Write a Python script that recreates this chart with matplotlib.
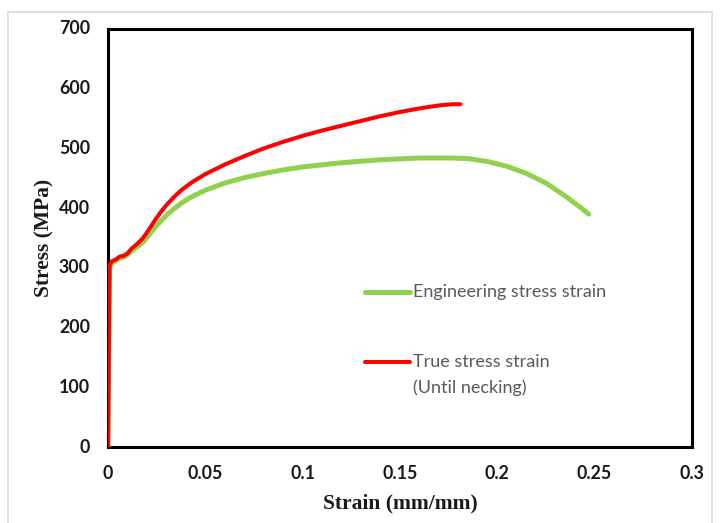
import matplotlib
matplotlib.use("Agg")
import matplotlib.pyplot as plt
from matplotlib.lines import Line2D

# Engineering stress-strain curve (strain mm/mm, stress MPa)
eng_strain = [0, 0.0008, 0.002, 0.004, 0.006, 0.008, 0.010, 0.012, 0.015, 0.018,
              0.021, 0.024, 0.027, 0.030, 0.034, 0.038, 0.043, 0.050, 0.060,
              0.070, 0.080, 0.090, 0.100, 0.120, 0.140, 0.160, 0.175, 0.185,
              0.195, 0.205, 0.215, 0.225, 0.235, 0.242, 0.247]
eng_stress = [0, 300, 308, 312, 316, 318, 322, 328, 335, 343,
              355, 367, 378, 388, 399, 409, 419, 430, 442,
              451, 458, 464, 469, 476, 481, 484, 484, 483,
              478, 470, 458, 442, 420, 403, 390]

# True stress-strain curve up to necking
true_strain = [0, 0.0008, 0.002, 0.004, 0.006, 0.008, 0.010, 0.012, 0.015, 0.018,
               0.021, 0.024, 0.027, 0.030, 0.034, 0.038, 0.043, 0.050, 0.060,
               0.070, 0.080, 0.090, 0.100, 0.110, 0.120, 0.130, 0.140, 0.150,
               0.160, 0.170, 0.177, 0.181]
true_stress = [0, 305, 311, 314, 319, 320, 324, 332, 340, 350,
               364, 379, 393, 405, 419, 431, 443, 457, 473,
               487, 500, 511, 521, 530, 538, 546, 554, 561,
               567, 572, 574, 574]

x_ticks = [0, 0.05, 0.1, 0.15, 0.2, 0.25, 0.3]
x_tick_labels = ["0", "0.05", "0.1", "0.15", "0.2", "0.25", "0.3"]
y_ticks = [0, 100, 200, 300, 400, 500, 600, 700]

GREEN = "#92D050"
RED = "#FF0000"
TEXT_GRAY = "#595959"

fig = plt.figure(figsize=(7.2, 5.23), dpi=100)
ax = fig.add_axes([0.15, 0.1453, 0.811, 0.7993])

ax.plot(eng_strain, eng_stress, color=GREEN, lw=3.6, solid_capstyle="round",
        solid_joinstyle="round", zorder=3)
ax.plot(true_strain, true_stress, color=RED, lw=2.9, solid_capstyle="round",
        solid_joinstyle="round", zorder=4)

ax.set_xlim(0, 0.3)
ax.set_ylim(0, 700)
ax.set_xticks(x_ticks)
ax.set_xticklabels(x_tick_labels)
ax.set_yticks(y_ticks)
ax.tick_params(length=0, labelsize=12.8, colors="#1a1a1a")
ax.tick_params(axis="x", pad=19)
ax.tick_params(axis="y", pad=13)
for lab in ax.get_xticklabels() + ax.get_yticklabels():
    lab.set_fontfamily("Lato")
    lab.set_fontweight("bold")
    lab.set_va("center")

for sp in ax.spines.values():
    sp.set_linewidth(2.2)
    sp.set_color("black")

label_font = dict(family="Liberation Serif", weight="bold", size=15.5, color="#1a1a1a")
ax.set_xlabel("Strain (mm/mm)", **label_font)
ax.set_ylabel("Stress (MPa)", **label_font)
ax.xaxis.set_label_coords(0.5, -0.11)
ax.xaxis.label.set_va("top")
ax.yaxis.set_label_coords(-0.091, 0.5)

# legend drawn inside the plot area without a frame
legend_font = dict(family="Lato", size=13, color=TEXT_GRAY, va="center", ha="left")
ax.add_line(Line2D([0.44, 0.517], [0.371, 0.371], transform=ax.transAxes,
                   color=GREEN, lw=3.6, solid_capstyle="round"))
ax.text(0.522, 0.371, "Engineering stress strain", transform=ax.transAxes, **legend_font)
ax.add_line(Line2D([0.44, 0.517], [0.203, 0.203], transform=ax.transAxes,
                   color=RED, lw=2.9, solid_capstyle="round"))
ax.text(0.522, 0.203, "True stress strain", transform=ax.transAxes, **legend_font)
ax.text(0.522, 0.141, "(Until necking)", transform=ax.transAxes, **legend_font)

# light gray chart-area border
border = dict(color="#d9d9d9", lw=1.2, transform=fig.transFigure)
fig.add_artist(Line2D([8 / 720, 712 / 720], [1 - 12 / 523, 1 - 12 / 523], **border))
fig.add_artist(Line2D([8 / 720, 8 / 720], [0, 1 - 12 / 523], **border))
fig.add_artist(Line2D([712 / 720, 712 / 720], [0, 1 - 12 / 523], **border))

fig.savefig("out.png", dpi=100, facecolor="white")
